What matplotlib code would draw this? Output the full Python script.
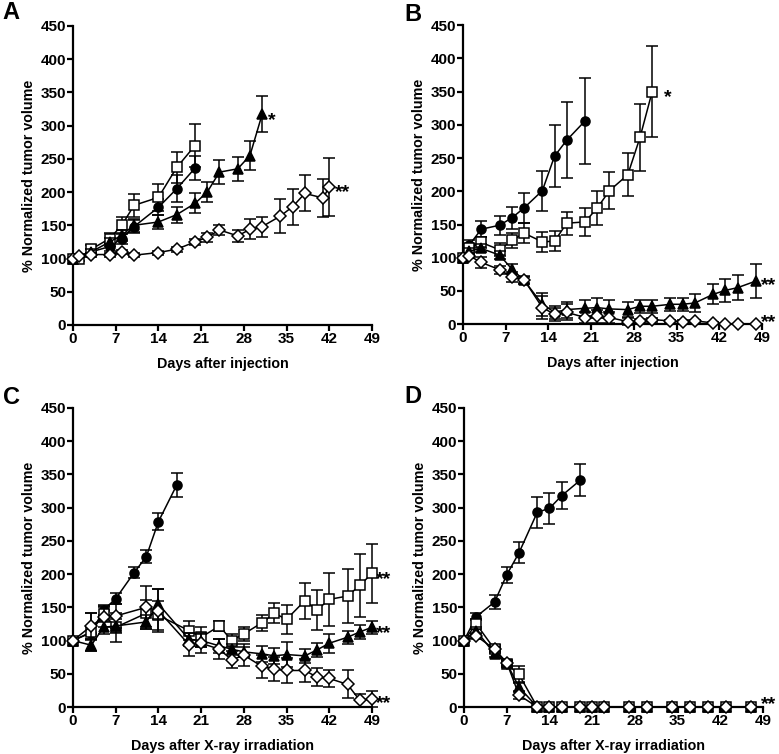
import matplotlib
import matplotlib.pyplot as plt

matplotlib.use("Agg")

plt.rcParams["font.family"] = ["Liberation Sans", "DejaVu Sans"]
plt.rcParams["font.weight"] = "bold"
plt.rcParams["axes.labelweight"] = "bold"

# --------------------
# Panel A
# --------------------
A_circle_day = [0, 3, 6, 8, 10, 14, 17, 20]
A_circle_val = [100, 110, 118, 130, 148, 177, 205, 236]
A_circle_err = [0, 4, 6, 8, 10, 12, 20, 18]

A_square_day = [0, 1, 3, 6, 8, 10, 14, 17, 20]
A_square_val = [100, 100, 114, 130, 150, 180, 192, 237, 270]
A_square_err = [0, 3, 6, 8, 13, 17, 20, 23, 32]

A_tri_day = [0, 3, 6, 8, 10, 14, 17, 20, 22, 24, 27, 29, 31]
A_tri_val = [100, 110, 125, 135, 150, 155, 166, 183, 200, 230, 235, 255, 317]
A_tri_err = [0, 4, 6, 8, 10, 10, 12, 15, 15, 18, 18, 22, 27]

A_dia_day = [0, 1, 3, 6, 8, 10, 14, 17, 20, 22, 24, 27, 29, 31, 34, 36, 38, 41, 42]
A_dia_val = [100, 104, 106, 106, 110, 105, 109, 114, 125, 132, 143, 134, 144, 148, 164, 178, 198, 191, 208]
A_dia_err = [0, 2, 3, 3, 3, 3, 3, 4, 5, 7, 8, 9, 15, 15, 26, 27, 27, 29, 44]

# --------------------
# Panel B
# --------------------
B_circle_day = [0, 1, 3, 6, 8, 10, 13, 15, 17, 20]
B_circle_val = [100, 119, 143, 149, 160, 175, 201, 253, 277, 306]
B_circle_err = [0, 8, 12, 14, 17, 23, 30, 47, 57, 65]

B_square_day = [0, 1, 3, 6, 8, 10, 13, 15, 17, 20, 22, 24, 27, 29, 31]
B_square_val = [100, 114, 123, 112, 126, 137, 124, 125, 152, 154, 175, 201, 225, 281, 350]
B_square_err = [0, 6, 8, 10, 12, 15, 15, 15, 17, 21, 26, 28, 32, 50, 68]

B_long_day = [0, 1, 3, 6, 8, 10, 13, 15, 17, 20, 22, 24, 27, 29, 31, 34, 36, 38, 41, 43, 45, 48]
B_tri_val = [100, 110, 114, 104, 83, 66, 30, 18, 22, 24, 25, 23, 22, 27, 27, 30, 30, 32, 45, 51, 55, 65]
B_tri_err = [0, 5, 6, 6, 8, 5, 17, 10, 12, 12, 15, 14, 11, 10, 10, 10, 10, 13, 15, 17, 19, 26]
B_dia_val = [100, 103, 93, 82, 71, 67, 25, 15, 18, 10, 12, 10, 4, 5, 7, 5, 4, 5, 2, 0, 0, 0]
B_dia_err = [0, 3, 8, 6, 7, 5, 17, 10, 12, 8, 10, 8, 5, 3, 3, 2, 2, 2, 1, 0, 0, 0]

# --------------------
# Panel C
# --------------------
C_circle_day = [0, 3, 5, 7, 10, 12, 14, 17]
C_circle_val = [100, 112, 146, 163, 202, 226, 279, 334]
C_circle_err = [0, 10, 8, 8, 8, 10, 13, 18]

C_long_day = [0, 3, 5, 7, 12, 14, 19, 21, 24, 26, 28, 31, 33, 35, 38, 40, 42, 45, 47, 49]
C_square_val = [100, 113, 140, 120, 141, 138, 115, 105, 122, 100, 110, 127, 141, 132, 160, 146, 162, 167, 183, 201]
C_square_err = [0, 28, 12, 22, 20, 22, 14, 15, 8, 10, 10, 12, 15, 22, 27, 30, 40, 40, 47, 44]
C_tri_val = [100, 93, 120, 122, 128, 155, 102, 100, 92, 87, 83, 80, 77, 79, 77, 86, 96, 105, 113, 120]
C_tri_err = [0, 8, 10, 10, 10, 22, 10, 10, 10, 8, 8, 12, 12, 19, 11, 10, 14, 10, 10, 10]
C_dia_val = [100, 122, 135, 137, 150, 145, 94, 96, 87, 71, 78, 61, 57, 55, 55, 45, 43, 34, 10, 12]
C_dia_err = [0, 20, 15, 18, 32, 32, 17, 15, 15, 13, 17, 18, 18, 19, 18, 13, 13, 21, 10, 12]

# --------------------
# Panel D
# --------------------
D_circle_day = [0, 2, 5, 7, 9, 12, 14, 16, 19]
D_circle_val = [100, 136, 158, 199, 232, 293, 299, 318, 341]
D_circle_err = [0, 5, 10, 12, 16, 23, 23, 20, 24]

D_long_day = [0, 2, 5, 7, 9, 12, 14, 16, 19, 21, 23, 27, 30, 34, 37, 40, 43, 47]
D_square_val = [100, 125, 87, 65, 49] + [0] * 13
D_square_err = [0, 8, 6, 5, 13] + [0] * 13
D_tri_val = [100, 115, 80, 66, 30] + [0] * 13
D_tri_err = [0, 5, 5, 4, 8] + [0] * 13
D_dia_val = [100, 107, 87, 67, 18] + [0] * 13
D_dia_err = [0, 5, 4, 4, 6] + [0] * 13

X_TICKS = [0, 7, 14, 21, 28, 35, 42, 49]
Y_TICKS = [0, 50, 100, 150, 200, 250, 300, 350, 400, 450]

STYLES = {
    "circle": dict(marker="o", ms=6.5, mfc="black"),
    "square": dict(marker="s", ms=7.5, mfc="white"),
    "tri": dict(marker="^", ms=6.5, mfc="black"),
    "dia": dict(marker="D", ms=6.0, mfc="white"),
}


def draw_series(ax, x, y, err, kind, z):
    ax.errorbar(x, y, yerr=err, color="black", lw=1.1, elinewidth=1.1,
                capsize=4, capthick=1.1, mec="black", mew=1.1,
                clip_on=False, zorder=z, **STYLES[kind])


def style_axis(ax, xlabel):
    ax.set_xlim(0, 49)
    ax.set_ylim(0, 450)
    ax.set_xticks(X_TICKS)
    ax.set_yticks(Y_TICKS)
    for s in ["top", "right"]:
        ax.spines[s].set_visible(False)
    for s in ["left", "bottom"]:
        ax.spines[s].set_linewidth(1.6)
    ax.tick_params(direction="out", length=4, width=1.6, labelsize=11, pad=1)
    ax.set_xlabel(xlabel, fontsize=10.3, labelpad=8)
    ax.set_ylabel("% Normalized tumor volume", fontsize=10.3, labelpad=3)


def star(ax, x, y, s):
    # asterisks sit high in the font, so nudge them down a bit
    ax.text(x, y - 6, s, fontsize=14, fontweight="bold", va="center", ha="left",
            clip_on=False)


def letter(fig, x_px, y_px, s):
    fig.text(x_px / 779, 1 - y_px / 754, s, fontsize=17, fontweight="bold",
             va="top", ha="left")


fig = plt.figure(figsize=(7.79, 7.54), dpi=100)
W, H = 0.3838, 0.3966
axA = fig.add_axes([0.0937, 0.569, W, H])
axB = fig.add_axes([0.5944, 0.570, W, H])
axC = fig.add_axes([0.0937, 0.0623, W, H])
axD = fig.add_axes([0.5957, 0.0623, W, H])

# A
draw_series(axA, A_circle_day, A_circle_val, A_circle_err, "circle", 3)
draw_series(axA, A_square_day, A_square_val, A_square_err, "square", 4)
draw_series(axA, A_tri_day, A_tri_val, A_tri_err, "tri", 5)
draw_series(axA, A_dia_day, A_dia_val, A_dia_err, "dia", 6)
style_axis(axA, "Days after injection")
star(axA, 32.0, 314, "*")
star(axA, 43.0, 205, "**")

# B
draw_series(axB, B_circle_day, B_circle_val, B_circle_err, "circle", 3)
draw_series(axB, B_square_day, B_square_val, B_square_err, "square", 4)
draw_series(axB, B_long_day, B_tri_val, B_tri_err, "tri", 5)
draw_series(axB, B_long_day, B_dia_val, B_dia_err, "dia", 6)
style_axis(axB, "Days after injection")
star(axB, 33.0, 347, "*")
star(axB, 48.9, 64, "**")
star(axB, 48.9, 9, "**")

# C
draw_series(axC, C_circle_day, C_circle_val, C_circle_err, "circle", 3)
draw_series(axC, C_long_day, C_square_val, C_square_err, "square", 4)
draw_series(axC, C_long_day, C_tri_val, C_tri_err, "tri", 5)
draw_series(axC, C_long_day, C_dia_val, C_dia_err, "dia", 6)
style_axis(axC, "Days after X-ray irradiation")
star(axC, 49.6, 198, "**")
star(axC, 49.6, 117, "**")
star(axC, 49.6, 11, "**")

# D
draw_series(axD, D_circle_day, D_circle_val, D_circle_err, "circle", 3)
draw_series(axD, D_long_day, D_square_val, D_square_err, "square", 4)
draw_series(axD, D_long_day, D_tri_val, D_tri_err, "tri", 5)
draw_series(axD, D_long_day, D_dia_val, D_dia_err, "dia", 6)
style_axis(axD, "Days after X-ray irradiation")
star(axD, 48.6, 10, "**")

letter(fig, 2, 1, "A")
letter(fig, 404, 3, "B")
letter(fig, 3, 386, "C")
letter(fig, 404, 385, "D")

fig.savefig("out.png", dpi=100)
